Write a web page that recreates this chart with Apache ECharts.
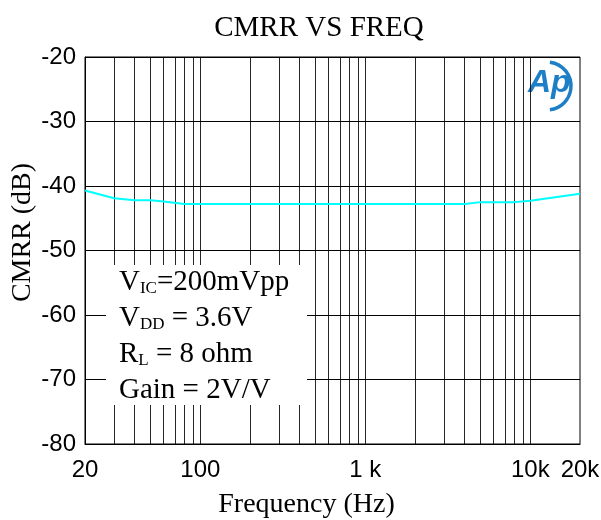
<!DOCTYPE html>
<html>
<head>
<meta charset="utf-8">
<script src="https://cdn.jsdelivr.net/npm/echarts@6/dist/echarts.min.js"></script>
<style>
  html, body { margin: 0; padding: 0; background: #fff; }
  #chart { width: 601px; height: 520px; }
</style>
</head>
<body>
<div id="chart"></div>
<script>
// CMRR versus frequency measurement
var freqHz = [20, 30, 40, 50, 60, 80, 100, 200, 500, 1000, 2000, 4000, 5000, 8000, 10000, 20000];
var cmrrDb = [-40.7, -41.9, -42.2, -42.2, -42.4, -42.8, -42.8, -42.8, -42.8, -42.8, -42.8, -42.8, -42.5, -42.5, -42.3, -41.2];

// axis ticks
var xTickValues = [20, 100, 1000, 10000, 20000];
var xTickLabels = ['20', '100', '1 k', '10k', '20k'];
// vertical grid lines at every 1..9 x 10^n inside the range
var gridFreqs = [30, 40, 50, 60, 70, 80, 90,
                 100, 200, 300, 400, 500, 600, 700, 800, 900,
                 1000, 2000, 3000, 4000, 5000, 6000, 7000, 8000, 9000,
                 10000];

var chart = echarts.init(document.getElementById('chart'), null, { renderer: 'canvas' });

var serif = '"Liberation Serif", "Times New Roman", serif';
var sans = '"Liberation Sans", Arial, sans-serif';

var option = {
  backgroundColor: '#fff',
  animation: false,
  title: {
    text: 'CMRR VS FREQ',
    left: 314,
    top: 9,
    textAlign: 'center',
    textStyle: { fontFamily: serif, fontWeight: 'normal', fontSize: 29, color: '#000' }
  },
  grid: {
    left: 85, right: 21, top: 57, bottom: 76,
    outerBoundsMode: 'none',
    containLabel: false,
    show: true, borderColor: '#000', borderWidth: 1, backgroundColor: '#fff'
  },
  xAxis: {
    type: 'log',
    logBase: 10,
    min: 20,
    max: 20000,
    name: 'Frequency (Hz)',
    nameLocation: 'middle',
    nameGap: 47,
    nameMoveOverlap: false,
    nameTextStyle: { fontFamily: serif, fontSize: 28, color: '#000', padding: [0, 52, 0, 0] },
    axisLine: { show: true, lineStyle: { color: '#000', width: 1 } },
    axisTick: { show: false },
    splitLine: { show: false },
    axisLabel: {
      customValues: xTickValues,
      showMinLabel: true,
      showMaxLabel: true,
      margin: 14,
      fontFamily: sans,
      fontSize: 24,
      color: '#000',
      formatter: function (v) {
        var i = xTickValues.indexOf(Math.round(v));
        return i >= 0 ? xTickLabels[i] : '';
      }
    }
  },
  yAxis: {
    type: 'value',
    min: -80,
    max: -20,
    interval: 10,
    name: 'CMRR (dB)',
    nameLocation: 'middle',
    nameGap: 48,
    nameMoveOverlap: false,
    nameTextStyle: { fontFamily: serif, fontSize: 28, color: '#000', padding: [0, 0, 0, 36] },
    axisLine: { show: true, lineStyle: { color: '#000', width: 1 } },
    axisTick: { show: false },
    splitLine: { show: true, lineStyle: { color: '#000', width: 1 } },
    axisLabel: { margin: 9, fontFamily: sans, fontSize: 24, color: '#000' }
  },
  series: [{
    type: 'line',
    data: freqHz.map(function (f, i) { return [f, cmrrDb[i]]; }),
    symbol: 'none',
    z: 5,
    lineStyle: { color: '#00ffff', width: 2 },
    markLine: {
      silent: true,
      symbol: ['none', 'none'],
      label: { show: false },
      z: 1,
      lineStyle: { color: '#000', width: 1, type: 'solid', opacity: 0.85 },
      data: gridFreqs.map(function (f) { return { xAxis: f }; })
    }
  }],
  graphic: [
    {
      type: 'rect',
      z: 100,
      shape: { x: 106, y: 265, width: 201, height: 140 },
      style: { fill: '#fff' }
    },
    {
      type: 'text',
      z: 101,
      left: 119,
      top: 268,
      style: {
        text: '{m|V}{s|IC}{m|=200mVpp}\n{m|V}{s|DD}{m| = 3.6V}\n{m|R}{s|L}{m| = 8 ohm}\n{m|Gain = 2V/V}',
        fill: '#000',
        rich: {
          m: { fontFamily: serif, fontSize: 29, lineHeight: 36, fill: '#000' },
          s: { fontFamily: serif, fontSize: 17, lineHeight: 36, verticalAlign: 'bottom', fill: '#000', padding: [0, 0, 3, 0] }
        }
      }
    },
    {
      type: 'group',
      z: 100,
      children: [
        {
          type: 'arc',
          shape: { cx: 547, cy: 86, r: 24, startAngle: -1.45, endAngle: 1.45, clockwise: true },
          style: { stroke: '#1f7fc6', lineWidth: 3.5, fill: null }
        },
        {
          type: 'text',
          x: 528,
          y: 67,
          style: {
            text: 'Ap',
            fontFamily: sans,
            fontStyle: 'italic',
            fontWeight: 'bold',
            fontSize: 32,
            fill: '#1f7fc6'
          }
        }
      ]
    }
  ]
};

chart.setOption(option);
</script>
</body>
</html>
